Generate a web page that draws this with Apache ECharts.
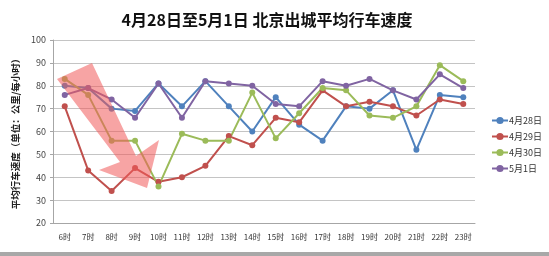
<!DOCTYPE html>
<html>
<head>
<meta charset="utf-8">
<script src="https://cdn.jsdelivr.net/npm/echarts@6/dist/echarts.min.js"></script>
<style>
html,body{margin:0;padding:0;background:#fff;}
#c{width:549px;height:256px;}
</style>
</head>
<body>
<div id="c"></div>
<script>
const categories = ['6时','7时','8时','9时','10时','11时','12时','13时','14时','15时','16时','17时','18时','19时','20时','21时','22时','23时'];
const seriesNames = ['4月28日','4月29日','4月30日','5月1日'];
const apr28 = [80,79,70,69,81,71,82,71,60,75,63,56,71,70,78,52,76,75];
const apr29 = [71,43,34,44,38,40,45,58,54,66,64,78,71,73,71,67,74,72];
const apr30 = [83,76,56,56,36,59,56,56,77,57,68,79,78,67,66,71,89,82];
const may1  = [76,79,74,66,81,66,82,81,80,72,71,82,80,83,78,74,85,79];
const yTicks = [20,30,40,50,60,70,80,90,100];

const colors = ['#4f81bd','#c0504d','#9bbb59','#8064a2'];
const allData = [apr28, apr29, apr30, may1];
const font = '"Noto Sans CJK SC", "Noto Sans", sans-serif';

const chart = echarts.init(document.getElementById('c'));
chart.setOption({
  animation: false,
  backgroundColor: '#fff',
  color: colors,
  title: {
    text: '4月28日至5月1日 北京出城平均行车速度',
    left: 262, top: 7, textAlign: 'center',
    textStyle: {fontFamily: font, fontSize: 16, fontWeight: 'bold', color: '#111'}
  },
  legend: {
    orient: 'vertical', left: 486, top: 111, itemGap: 7,
    itemWidth: 16, itemHeight: 9,
    data: seriesNames,
    textStyle: {fontFamily: font, fontSize: 9, color: '#333', padding: [0,0,0,-4]}
  },
  grid: {left: 53, right: 74, top: 40, bottom: 33},
  xAxis: {
    type: 'category', data: categories, boundaryGap: true,
    axisLine: {lineStyle: {color: '#a6a6a6'}},
    axisTick: {show: false},
    axisLabel: {fontFamily: font, fontSize: 8, color: '#333', margin: 10, interval: 0}
  },
  yAxis: {
    type: 'value', min: yTicks[0], max: yTicks[yTicks.length-1], interval: 10,
    name: '平均行车速度（单位：公里/每小时）',
    nameLocation: 'middle', nameRotate: 90, nameGap: 32,
    nameTextStyle: {fontFamily: font, fontSize: 9.5, fontWeight: 'bold', color: '#222'},
    axisLine: {show: true, lineStyle: {color: '#a6a6a6'}},
    axisTick: {show: true, length: 3, lineStyle: {color: '#a6a6a6'}},
    axisLabel: {fontFamily: font, fontSize: 9, color: '#444', margin: 7},
    splitLine: {lineStyle: {color: '#c4c4c4', width: 1.2}}
  },
  series: allData.map((d, i) => ({
    name: seriesNames[i], type: 'line', data: d,
    symbol: 'circle', symbolSize: 6,
    lineStyle: {width: 2, color: colors[i]},
    itemStyle: {color: colors[i]}
  })),
  graphic: [
    {
      type: 'polygon', z: 100,
      shape: {points: [[57,79],[92,63],[136,156],[159,140],[147,188],[99,170],[120,162]]},
      style: {fill: 'rgba(240,90,90,0.55)'}
    },
    {
      type: 'rect', z: 100,
      shape: {x: 0, y: 252, width: 549, height: 4},
      style: {fill: '#a8a8a8'}
    }
  ]
});
</script>
</body>
</html>
